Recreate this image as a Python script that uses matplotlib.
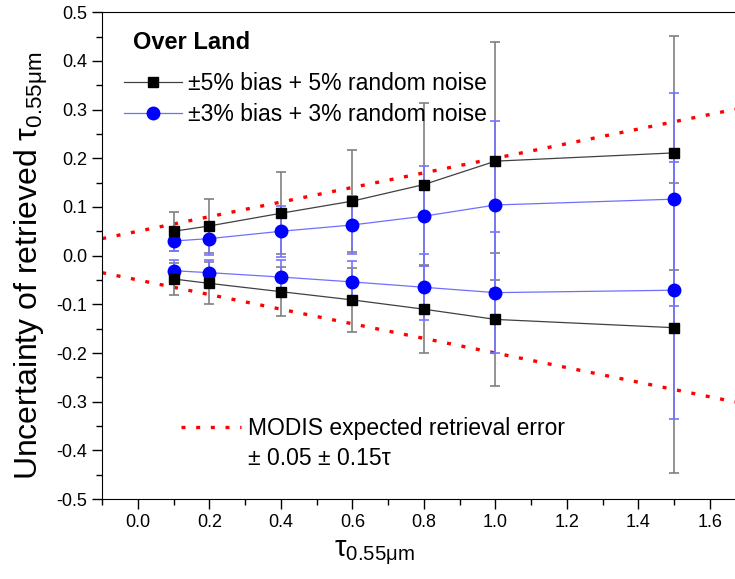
import matplotlib.pyplot as plt
import numpy as np
from matplotlib.ticker import MultipleLocator, FormatStrFormatter

plt.rcParams['font.family'] = ['Liberation Sans', 'DejaVu Sans']
plt.rcParams['mathtext.fontset'] = 'custom'
plt.rcParams['mathtext.rm'] = 'Liberation Sans'
plt.rcParams['mathtext.it'] = 'Liberation Sans:italic'
plt.rcParams['axes.unicode_minus'] = False

# optical depth at 0.55 um
tau = [0.1, 0.2, 0.4, 0.6, 0.8, 1.0, 1.5]

# +-5% bias + 5% random noise (upper / lower branch, with error bars)
up5 = [0.050, 0.061, 0.087, 0.112, 0.146, 0.194, 0.211]
up5_err = [0.040, 0.055, 0.084, 0.104, 0.168, 0.245, 0.240]
lo5 = [-0.048, -0.057, -0.074, -0.091, -0.110, -0.131, -0.148]
lo5_err = [0.033, 0.043, 0.050, 0.065, 0.090, 0.137, 0.298]

# +-3% bias + 3% random noise
up3 = [0.030, 0.035, 0.050, 0.063, 0.081, 0.104, 0.116]
up3_err = [0.021, 0.034, 0.052, 0.060, 0.103, 0.172, 0.219]
lo3 = [-0.031, -0.035, -0.044, -0.054, -0.065, -0.076, -0.071]
lo3_err = [0.023, 0.027, 0.036, 0.043, 0.068, 0.124, 0.264]

# MODIS expected error: +-(0.05 + 0.15 tau)
modis_a, modis_b = 0.05, 0.15
x_min, x_max = -0.1, 1.67

fig = plt.figure(figsize=(7.35, 5.79), dpi=100)
ax = fig.add_axes([0.139, 0.138, 0.861, 0.841])

# error bars first so markers sit on top
for y, e in [(up5, up5_err), (lo5, lo5_err)]:
    ax.errorbar(tau, y, yerr=e, fmt='none', ecolor='#808080', elinewidth=1.2,
                capsize=3.5, capthick=1.2, zorder=2)
for y, e in [(up3, up3_err), (lo3, lo3_err)]:
    ax.errorbar(tau, y, yerr=e, fmt='none', ecolor='#7575ff', elinewidth=1.2,
                capsize=3.5, capthick=1.2, zorder=3)

h5, = ax.plot(tau, up5, '-s', color='#404040', lw=0.9, mfc='black', mec='black',
              ms=7.5, zorder=5, label='±5% bias + 5% random noise')
ax.plot(tau, lo5, '-s', color='#404040', lw=0.9, mfc='black', mec='black',
        ms=7.5, zorder=5)
h3, = ax.plot(tau, up3, '-o', color='#6f6fff', lw=0.9, mfc='#0000ff', mec='#0000ff',
              ms=9, zorder=4, label='±3% bias + 3% random noise')
ax.plot(tau, lo3, '-o', color='#6f6fff', lw=0.9, mfc='#0000ff', mec='#0000ff',
        ms=9, zorder=4)

t_line = np.array([x_min, x_max])
hm, = ax.plot(t_line, modis_a + modis_b * t_line, color='red', lw=2.4,
              linestyle=(0, (1.2, 3.2)), zorder=1, label='MODIS expected retrieval error')
ax.plot(t_line, -(modis_a + modis_b * t_line), color='red', lw=2.4,
        linestyle=(0, (1.2, 3.2)), zorder=1)

ax.set_xlim(x_min, x_max)
ax.set_ylim(-0.5, 0.5)
ax.xaxis.set_major_locator(MultipleLocator(0.2))
ax.xaxis.set_minor_locator(MultipleLocator(0.1))
ax.yaxis.set_major_locator(MultipleLocator(0.1))
ax.yaxis.set_minor_locator(MultipleLocator(0.05))
ax.xaxis.set_major_formatter(FormatStrFormatter('%.1f'))
ax.yaxis.set_major_formatter(FormatStrFormatter('%.1f'))
ax.tick_params(which='major', direction='out', length=7, width=1, labelsize=13)
ax.tick_params(which='minor', direction='out', length=4, width=1)
ax.tick_params(top=False, right=False)
ax.spines['right'].set_visible(False)

ax.set_ylabel(r'Uncertainty of retrieved $\mathrm{\tau}_{\mathrm{0.55\mu m}}$', fontsize=23)
ax.yaxis.set_label_coords(-0.082, 0.48)
ax.set_xlabel(r'$\mathrm{\tau}_{\mathrm{0.55\mu m}}$', fontsize=21)
ax.xaxis.set_label_coords(0.43, -0.08)

ax.text(0.049, 0.938, 'Over Land', transform=ax.transAxes, fontsize=17,
        fontweight='bold', va='center', ha='left')
leg1 = ax.legend(handles=[h5, h3], loc='upper left',
                 bbox_to_anchor=(0.035, 0.878), frameon=False, fontsize=16.5,
                 handlelength=2.5, handletextpad=0.3, labelspacing=0.36,
                 borderaxespad=0, borderpad=0)
ax.add_artist(leg1)
ax.legend(handles=[hm], loc='upper left', bbox_to_anchor=(0.125, 0.168),
          frameon=False, fontsize=16.5, handlelength=2.6, handletextpad=0.3,
          borderaxespad=0, borderpad=0)
ax.text(0.231, 0.083, '± 0.05 ± 0.15τ', transform=ax.transAxes, fontsize=16.5,
        va='center', ha='left')

fig.savefig('out.png', dpi=100)
